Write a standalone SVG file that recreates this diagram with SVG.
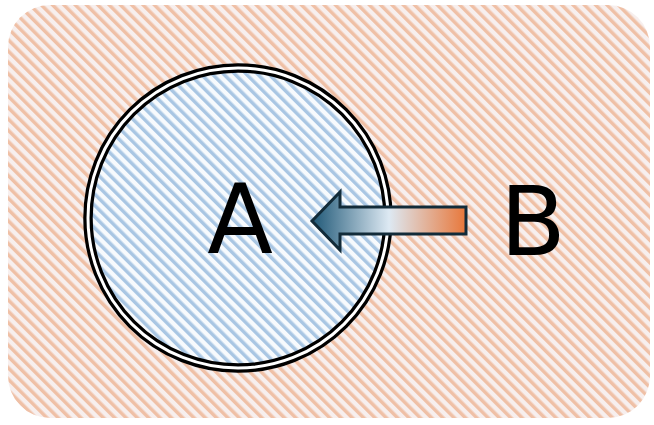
<svg xmlns="http://www.w3.org/2000/svg" width="654" height="425" viewBox="0 0 654 425">
<defs>
<style>
.lbl{font-family:"DejaVu Sans",sans-serif;font-size:96px;fill:#000;text-anchor:middle}
</style>
<pattern id="pOr" width="8" height="8" patternUnits="userSpaceOnUse" patternTransform="rotate(-45)">
<rect width="8" height="8" fill="#f7efee"/>
<rect x="0" y="0" width="3.5" height="8" fill="#efc0a6"/>
</pattern>
<pattern id="pBl" width="8" height="8" patternUnits="userSpaceOnUse" patternTransform="rotate(-45)">
<rect width="8" height="8" fill="#f7fafd"/>
<rect x="0" y="0" width="3.5" height="8" fill="#a9c6e3"/>
</pattern>
<linearGradient id="gArr" x1="312" y1="0" x2="466" y2="0" gradientUnits="userSpaceOnUse">
<stop offset="0" stop-color="#1f5877"/>
<stop offset="0.5" stop-color="#dde9f3"/>
<stop offset="1" stop-color="#e8773a"/>
</linearGradient>
</defs>
<g id="background">
<rect x="8" y="5" width="642" height="413" rx="42" ry="42" fill="url(#pOr)"/>
</g>
<g id="nodeA">
<circle cx="238" cy="218" r="150" fill="url(#pBl)" stroke="#000" stroke-width="9.5"/>
<circle cx="238" cy="218" r="150" fill="none" stroke="#fff" stroke-width="3"/>
<text class="lbl" x="240" y="253">A</text>
</g>
<g id="nodeB">
<text class="lbl" x="533" y="255">B</text>
</g>
<g id="connectors">
<path d="M312,221 L340,192 L340,207 L466,207 L466,234 L340,234 L340,250 Z" fill="url(#gArr)" stroke="#122b39" stroke-width="3" stroke-linejoin="miter"/>
</g>
</svg>
